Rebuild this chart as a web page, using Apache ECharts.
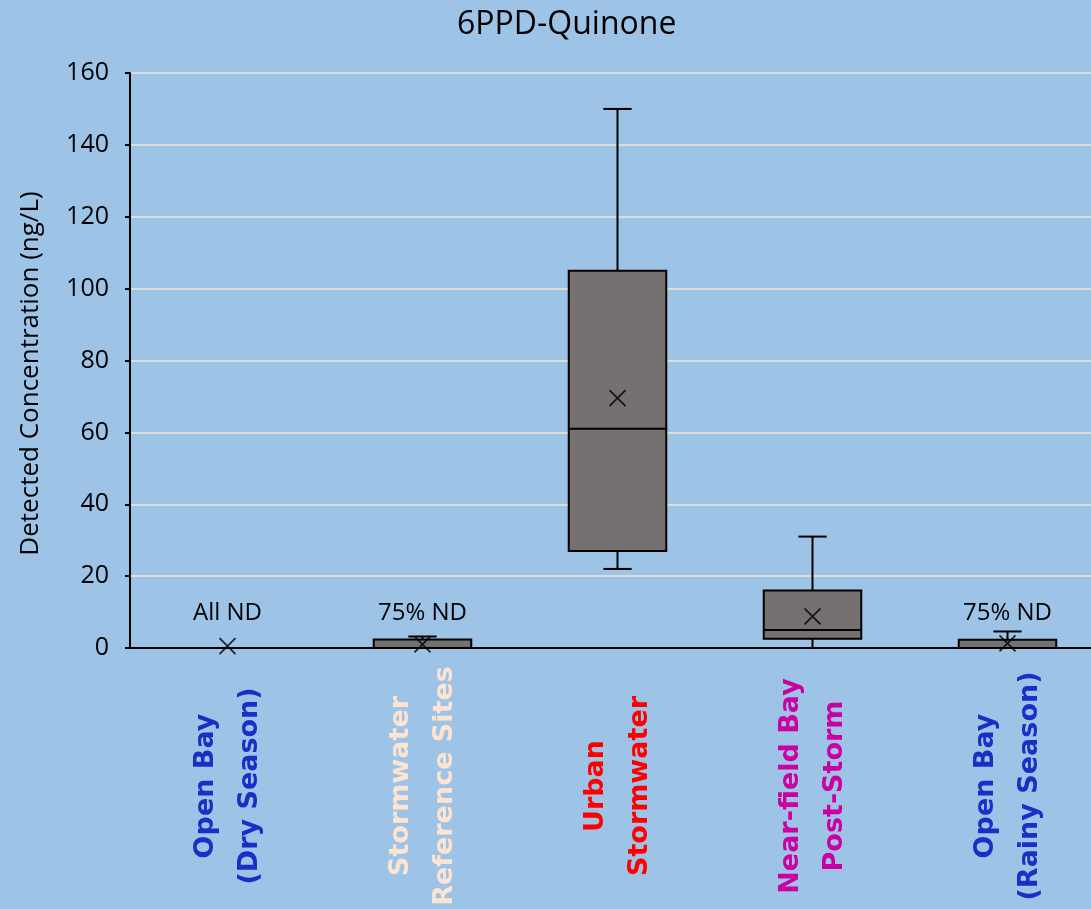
<!DOCTYPE html>
<html>
<head>
<meta charset="utf-8">
<style>
  html, body { margin: 0; padding: 0; background: #9dc3e6; overflow: hidden; }
  #chart { width: 1105px; height: 909px; }
</style>
<script src="https://cdn.jsdelivr.net/npm/echarts@6/dist/echarts.min.js"></script>
</head>
<body>
<div id="chart"></div>
<script>
// Sample groups along the x axis
const categories = [
  'Open Bay\n(Dry Season)',
  'Stormwater\nReference Sites',
  'Urban\nStormwater',
  'Near-field Bay\nPost-Storm',
  'Open Bay\n(Rainy Season)'
];
const categoryColors = ['#1b2fc6', '#fde4d0', '#ff0000', '#cc00a0', '#1b2fc6'];

// Box statistics (ng/L)
const minVals    = [0,   0,   22,  0,   0];
const q1Vals     = [0,   0,   27,  2.6, 0];
const medianVals = [0,   0,   61,  5,   0];
const q3Vals     = [0,   2.4, 105, 16,  2.3];
const maxVals    = [0,   3.2, 150, 31,  4.6];
const meanVals   = [0.5, 1.0, 69.5, 8.8, 1.3];

// Non-detect annotations
const ndNotes = ['All ND', '75% ND', '', '', '75% ND'];

const yTicks = { min: 0, max: 160, interval: 20 };

const boxData = categories.map((c, i) => [i, minVals[i], q1Vals[i], medianVals[i], q3Vals[i], maxVals[i]]);
const meanData = categories.map((c, i) => [i, meanVals[i]]);
const noteData = categories.map((c, i) => ({ value: [i, 0], note: ndNotes[i] }));

function renderBox(params, api) {
  const i = api.value(0);
  const pMin = api.coord([i, api.value(1)]);
  const pQ1 = api.coord([i, api.value(2)]);
  const pMed = api.coord([i, api.value(3)]);
  const pQ3 = api.coord([i, api.value(4)]);
  const pMax = api.coord([i, api.value(5)]);
  const band = api.size([1, 0])[0];
  const bw = band * 0.5;
  const cw = bw * 0.29;
  const x = pQ1[0];
  const line = { stroke: '#000', lineWidth: 2 };
  return {
    type: 'group',
    children: [
      { type: 'line', shape: { x1: x, y1: pQ3[1], x2: x, y2: pMax[1] }, style: line },
      { type: 'line', shape: { x1: x, y1: pQ1[1], x2: x, y2: pMin[1] }, style: line },
      { type: 'line', shape: { x1: x - cw / 2, y1: pMax[1], x2: x + cw / 2, y2: pMax[1] }, style: line },
      { type: 'line', shape: { x1: x - cw / 2, y1: pMin[1], x2: x + cw / 2, y2: pMin[1] }, style: line },
      { type: 'rect', shape: { x: x - bw / 2, y: pQ3[1], width: bw, height: pQ1[1] - pQ3[1] },
        style: { fill: '#767171', stroke: '#000', lineWidth: 2 } },
      { type: 'line', shape: { x1: x - bw / 2, y1: pMed[1], x2: x + bw / 2, y2: pMed[1] }, style: line }
    ]
  };
}

const chart = echarts.init(document.getElementById('chart'));
chart.setOption({
  backgroundColor: '#9dc3e6',
  animation: false,
  title: {
    text: '6PPD-Quinone',
    left: 452,
    top: 4,
    textStyle: { fontFamily: 'Open Sans', fontWeight: 'normal', fontSize: 32, color: '#000' }
  },
  grid: { left: 130, top: 73, right: 0, bottom: 261 },
  xAxis: {
    type: 'category',
    data: categories,
    axisLine: { lineStyle: { color: '#000', width: 2 } },
    axisTick: { show: false },
    splitLine: { show: false },
    axisLabel: {
      interval: 0,
      rotate: 90,
      align: 'center',
      verticalAlign: 'middle',
      margin: 138,
      fontFamily: 'DejaVu Sans',
      fontWeight: 'bold',
      fontSize: 27,
      lineHeight: 44,
      color: (v, i) => categoryColors[i]
    }
  },
  yAxis: {
    type: 'value',
    min: yTicks.min,
    max: yTicks.max,
    interval: yTicks.interval,
    name: 'Detected Concentration (ng/L)',
    nameLocation: 'middle',
    nameGap: 86,
    nameTextStyle: { fontFamily: 'Open Sans', fontSize: 26, color: '#000', padding: [0, 26, 0, 0] },
    axisLine: { show: true, lineStyle: { color: '#000', width: 2 } },
    axisTick: { show: true, length: 5, lineStyle: { color: '#000', width: 2 } },
    axisLabel: { fontFamily: 'Open Sans', fontSize: 25, color: '#000', margin: 21 },
    splitLine: { lineStyle: { color: '#dcdcdc', width: 2 } }
  },
  series: [
    {
      type: 'custom',
      renderItem: renderBox,
      data: boxData,
      z: 3
    },
    {
      type: 'scatter',
      data: meanData,
      symbol: 'path://M0,0L10,10M10,0L0,10',
      symbolSize: 16,
      itemStyle: { color: 'none', borderColor: '#000', borderWidth: 1.8 },
      z: 5
    },
    {
      type: 'scatter',
      data: noteData,
      symbolSize: 0,
      label: {
        show: true,
        position: 'inside',
        offset: [0, -35],
        formatter: p => p.data.note,
        fontFamily: 'Open Sans',
        fontSize: 24,
        color: '#000',
        opacity: 1,
        textBorderWidth: 0
      },
      z: 6
    }
  ]
});
</script>
</body>
</html>
